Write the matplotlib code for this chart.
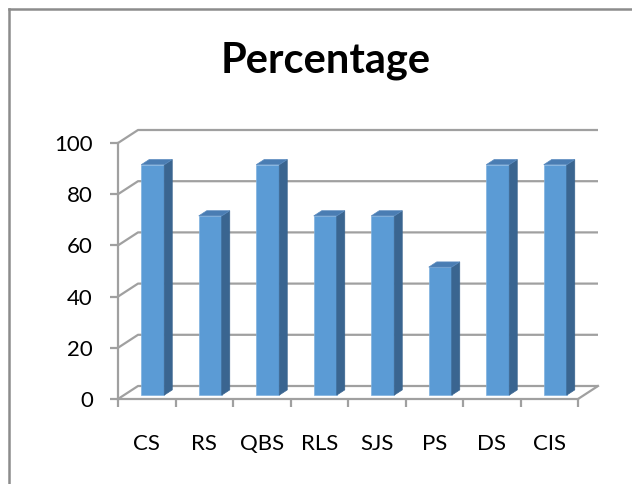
import numpy as np
import matplotlib.pyplot as plt
from matplotlib.patches import Polygon
from matplotlib.lines import Line2D

categories = ["CS", "RS", "QBS", "RLS", "SJS", "PS", "DS", "CIS"]
values = [90, 70, 90, 70, 70, 50, 90, 90]
y_ticks = [0, 20, 40, 60, 80, 100]

FRONT = "#5b9bd5"
TOP = "#4a7db3"
SIDE = "#3a6590"
GRID = "#a0a0a0"

W, H = 632, 484
plt.rcParams["font.family"] = ["Lato", "DejaVu Sans"]

fig = plt.figure(figsize=(W / 100, H / 100), dpi=100)

# front plane of the 3d box, in pixels
left_px, right_px, base_px, top_px = 118, 578, 399, 143
ax = fig.add_axes([left_px / W, (H - base_px) / H,
                   (right_px - left_px) / W, (base_px - top_px) / H])
n = len(categories)
ax.set_xlim(0, n)
ax.set_ylim(0, 100)

# depth vector in data units (20 px right, 13 px up)
DX = 20 / ((right_px - left_px) / n)
DY = 13 / ((base_px - top_px) / 100)

# walls and gridlines
for v in y_ticks:
    ax.plot([0, DX, n + DX], [v, v + DY, v + DY], color=GRID, lw=1.6,
            clip_on=False, zorder=1, solid_capstyle="butt")
ax.plot([n, n + DX], [0, DY], color=GRID, lw=1.6, clip_on=False, zorder=1)

# 3d columns
d0, d1 = 0.3, 0.7
half = 0.2
for i, v in enumerate(values):
    x0 = i + 0.5 - half + d0 * DX
    x1 = i + 0.5 + half + d0 * DX
    y0 = d0 * DY
    y1 = v + d0 * DY
    ddx = (d1 - d0) * DX
    ddy = (d1 - d0) * DY
    front = Polygon([[x0, y0], [x1, y0], [x1, y1], [x0, y1]], closed=True,
                    facecolor=FRONT, edgecolor="#7fb2e0", lw=0.5, zorder=3, clip_on=False)
    side = Polygon([[x1, y0], [x1 + ddx, y0 + ddy], [x1 + ddx, y1 + ddy], [x1, y1]],
                   closed=True, facecolor=SIDE, edgecolor=SIDE, lw=0.5, zorder=3, clip_on=False)
    top = Polygon([[x0, y1], [x1, y1], [x1 + ddx, y1 + ddy], [x0 + ddx, y1 + ddy]],
                  closed=True, facecolor=TOP, edgecolor="#5b8cc0", lw=0.5, zorder=3, clip_on=False)
    for p in (front, side, top):
        ax.add_patch(p)

# axes lines and ticks
for s in ("top", "right"):
    ax.spines[s].set_visible(False)
for s in ("left", "bottom"):
    ax.spines[s].set_color(GRID)
    ax.spines[s].set_linewidth(1.6)
ax.patch.set_alpha(0)

ax.set_yticks(y_ticks)
ax.set_yticklabels([str(t) for t in y_ticks], fontsize=16)
ax.tick_params(axis="y", direction="out", length=6, width=1.6, color=GRID, pad=12)

ax.set_xticks(np.arange(n + 1))
ax.set_xticklabels([])
ax.set_xticks(np.arange(n) + 0.5, minor=True)
ax.set_xticklabels(categories, minor=True, fontsize=16)
ax.tick_params(axis="x", which="major", direction="out", length=6, width=1.6, color=GRID)
ax.tick_params(axis="x", which="minor", length=0, pad=25)

fig.text(326 / W, 1 - 73 / H, "Percentage", ha="center", va="baseline",
         fontsize=30, fontweight="bold")

# chart frame (cut off at right and bottom)
fig.add_artist(Line2D([8.5 / W, 8.5 / W], [0, 1 - 8.5 / H], color="#8c8c8c", lw=1.8))
fig.add_artist(Line2D([8.5 / W, 1], [1 - 8.5 / H, 1 - 8.5 / H], color="#8c8c8c", lw=1.8))

fig.savefig("out.png", dpi=100)
